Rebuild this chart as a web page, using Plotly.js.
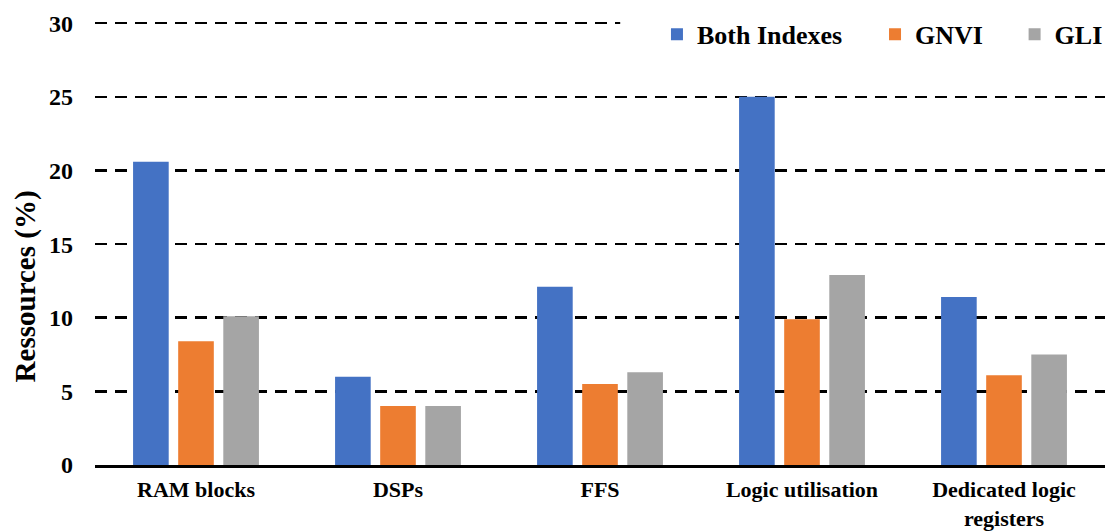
<!DOCTYPE html>
<html>
<head>
<meta charset="utf-8">
<script src="https://cdn.plot.ly/plotly-3.0.1.min.js"></script>
<style>html,body{margin:0;padding:0;background:#fff;}#chart{width:1105px;height:531px;}</style>
</head>
<body>
<div id="chart"></div>
<script>
const categories = ["RAM blocks", "DSPs", "FFS", "Logic utilisation", "Dedicated logic<br>registers"];
const seriesNames = ["Both Indexes", "GNVI", "GLI"];
const bothIndexes = [20.6, 6.0, 12.1, 25.0, 11.4];
const gnvi = [8.4, 4.0, 5.5, 9.9, 6.1];
const gli = [10.1, 4.0, 6.3, 12.9, 7.5];
const yTicks = [0, 5, 10, 15, 20, 25, 30];
const colors = ["#4472C4", "#ED7D31", "#A5A5A5"];

const FONT = '"Liberation Serif", "Times New Roman", serif';
const values = [bothIndexes, gnvi, gli];
const legendIds = ['legend', 'legend2', 'legend3'];
const traces = values.map((v, i) => ({
  type: 'bar',
  name: seriesNames[i],
  x: categories,
  y: v,
  legend: legendIds[i],
  showlegend: true,
  marker: {color: colors[i]},
  hoverinfo: 'x+y+name'
}));

const legendFont = {family: FONT, size: 26, color: '#000', weight: 'bold'};
function legendAt(x) {
  return {orientation: 'h', x: x, xanchor: 'left', y: 0.97, yanchor: 'middle',
          bgcolor: 'rgba(0,0,0,0)', itemwidth: 30, font: legendFont};
}

const layout = {
  width: 1105, height: 531,
  margin: {l: 95, r: 0, t: 21, b: 66, pad: 0, autoexpand: false},
  paper_bgcolor: '#fff', plot_bgcolor: '#fff',
  showlegend: true,
  barmode: 'group', bargap: 0.33, bargroupgap: 0.21,
  font: {family: FONT, color: '#000'},
  xaxis: {
    showline: true, linecolor: '#000', linewidth: 2.5,
    showgrid: false, zeroline: false, ticks: '',
    tickfont: {family: FONT, size: 22, color: '#000', weight: 'bold'},
    ticklabelstandoff: 3
  },
  yaxis: {
    range: [0, 30.15], tickvals: yTicks, ticktext: yTicks.map(String),
    showgrid: true, gridcolor: '#000', gridwidth: 2.5, griddash: '12px,8px',
    zeroline: false, showline: false, ticks: '',
    tickfont: {family: FONT, size: 24, color: '#000', weight: 'bold'},
    ticklabelstandoff: 21
  },
  legend: legendAt(0.5564),
  legend2: legendAt(0.7723),
  legend3: legendAt(0.9105),
  shapes: [{
    type: 'rect', xref: 'paper', yref: 'paper', layer: 'above',
    x0: 0.52, x1: 1, y0: 0.975, y1: 1.015,
    fillcolor: '#fff', line: {width: 0}
  }],
  annotations: [{
    text: 'Ressources (%)', textangle: -90, showarrow: false,
    xref: 'paper', yref: 'paper', x: -0.069, y: 0.403,
    xanchor: 'center', yanchor: 'middle',
    font: {family: FONT, size: 29, color: '#000', weight: 'bold'}
  }]
};

Plotly.newPlot('chart', traces, layout, {displayModeBar: false, staticPlot: true});
</script>
</body>
</html>
